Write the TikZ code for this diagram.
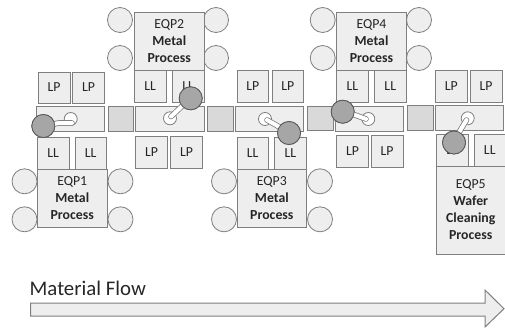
\documentclass[tikz,border=0pt]{standalone}
\usepackage{fontspec}
\setmainfont{Carlito}
\definecolor{boxfill}{HTML}{EEEEEE}
\definecolor{boxline}{HTML}{7F7F7F}
\definecolor{xfer}{HTML}{D9D9D9}
\definecolor{robot}{HTML}{A6A6A6}
\definecolor{ink}{HTML}{262626}
\tikzset{
  base/.style={draw=boxline,line width=1pt,fill=boxfill,inner sep=0pt,text=ink,align=center,
    font=\fontsize{13.8}{17}\selectfont},
  xferbox/.style={base,fill=xfer},
  port/.style={base,circle,minimum size=25pt,line width=0.8pt},
  hand/.style={circle,draw=boxline,fill=white,line width=0.8pt,minimum size=13pt,inner sep=0pt},
  body/.style={circle,draw=boxline!70!black,fill=robot,line width=0.8pt,minimum size=23pt,inner sep=0pt},
  armout/.style={line width=5.6pt,draw=boxline,line cap=round,line join=round},
  armin/.style={line width=4pt,draw=white,line cap=round,line join=round},
}
% \bx[style]{name}{x1}{y1}{x2}{y2}{text}
\newcommand{\bx}[7][base]{%
  \pgfmathsetlengthmacro{\bw}{(#5-#3)*1pt}%
  \pgfmathsetlengthmacro{\bh}{(#6-#4)*1pt}%
  \node[#1,minimum width=\bw,minimum height=\bh] (#2) at ({(#3+#5)/2},{(#4+#6)/2}) {#7};}
\newcommand{\ports}[5]{%
  \node[port] (#1a) at (#2,#4) {};
  \node[port] (#1b) at (#2,#5) {};
  \node[port] (#1c) at (#3,#4) {};
  \node[port] (#1d) at (#3,#5) {};}
% \robotarm{name}{body x}{body y}{hand x}{hand y}{elbow x}{elbow y}{blade end x}{blade end y}
\newcommand{\robotarm}[9]{%
  \node[hand] (#1h) at (#4,#5) {};
  \coordinate (#1e) at (#6,#7);
  \coordinate (#1t) at (#8,#9);
  \node[body] (#1r) at (#2,#3) {};
  \draw[armout] (#1r.center) -- (#1e) -- (#1t);
  \draw[armin] (#1r.center) -- (#1e) -- (#1t);
  \node[body] at (#1r) {};}
\begin{document}
\begin{tikzpicture}[x=1pt,y=-1pt]
\useasboundingbox (0,0) rectangle (505,327);
% ports
\ports{pa}{24.5}{120.5}{181.3}{219.3}
\ports{pb}{120}{216}{20}{58}
\ports{pc}{224}{320}{181.3}{219.3}
\ports{pd}{322.7}{419}{20}{58}
% equipment
\bx{eqa}{37.5}{169}{107}{227}{EQP1\\\textbf{Metal}\\\textbf{Process}}
\bx{eqb}{134.5}{12}{204}{70}{EQP2\\\textbf{Metal}\\\textbf{Process}}
\bx{eqc}{237}{169}{306.7}{227}{EQP3\\\textbf{Metal}\\\textbf{Process}}
\bx{eqd}{336.5}{12}{406.5}{70}{EQP4\\\textbf{Metal}\\\textbf{Process}}
\bx{eqe}{436.5}{166}{505}{254}{EQP5\\\textbf{Wafer}\\\textbf{Cleaning}\\\textbf{Process}}
% load ports and load locks
\bx{lpa}{38}{72}{70}{103}{LP}
\bx{lpb}{72.5}{72}{104.5}{103}{LP}
\bx{lla}{37.5}{137.5}{69}{169}{LL}
\bx{llb}{75}{137.5}{106.5}{169}{LL}
\bx{llc}{134.5}{70}{166}{102}{LL}
\bx{lld}{172.5}{70}{204}{102}{LL}
\bx{lpc}{135.5}{136}{167.5}{168}{LP}
\bx{lpd}{170.5}{136}{202.5}{168}{LP}
\bx{lpe}{237}{70.5}{268.5}{102}{LP}
\bx{lpf}{272}{70.5}{303.5}{102}{LP}
\bx{lle}{237}{137.5}{268.5}{169}{LL}
\bx{llf}{274.5}{137.5}{306.5}{169}{LL}
\bx{llg}{336.7}{70.5}{368}{102}{LL}
\bx{llh}{374.5}{70.5}{406}{102}{LL}
\bx{lpg}{336.7}{135.5}{368.5}{167}{LP}
\bx{lph}{371}{135.5}{403}{167}{LP}
\bx{lpi}{435.5}{70.5}{467}{102}{LP}
\bx{lpj}{470}{70.5}{502}{102}{LP}
\bx{lli}{436.5}{134}{468}{166}{LL}
\bx{llj}{474.5}{134}{505}{166}{LL}
% corridors
\bx{cora}{36}{106}{104.5}{131}{}
\bx{corb}{135.5}{106}{204}{131}{}
\bx{corc}{235}{106}{303.5}{131}{}
\bx{cord}{335.7}{106.5}{403.5}{131}{}
\bx{core}{435}{105.5}{503.5}{130.5}{}
% transfer boxes
\bx[xferbox]{xa}{108}{106}{133.5}{131}{}
\bx[xferbox]{xb}{207.5}{106}{233}{131}{}
\bx[xferbox]{xc}{307.5}{106}{333}{130.5}{}
\bx[xferbox]{xd}{407}{105.5}{433}{130.5}{}
% robots
\robotarm{ra}{43.3}{126}{70.7}{119}{59}{123}{72}{123}
\robotarm{rb}{190.7}{98.3}{170}{118.3}{180}{108}{171}{116.5}
\robotarm{rc}{289}{133}{265}{119}{276}{125}{267}{120}
\robotarm{rd}{342.7}{111.7}{368.3}{119}{355}{115}{366}{119}
\robotarm{re}{454}{142.5}{467.7}{118.3}{461}{129}{466.5}{120}
% material flow
\node[anchor=west,inner sep=0pt,text=ink,font=\fontsize{20.8}{24}\selectfont] (mf) at (29.5,288) {Material Flow};
\draw[draw=boxline,line width=1pt,fill=boxfill]
  (30.5,303) -- (485,303) -- (485,290) -- (504,308.7) -- (485,327) -- (485,316) -- (30.5,316) -- cycle;
\end{tikzpicture}
\end{document}
